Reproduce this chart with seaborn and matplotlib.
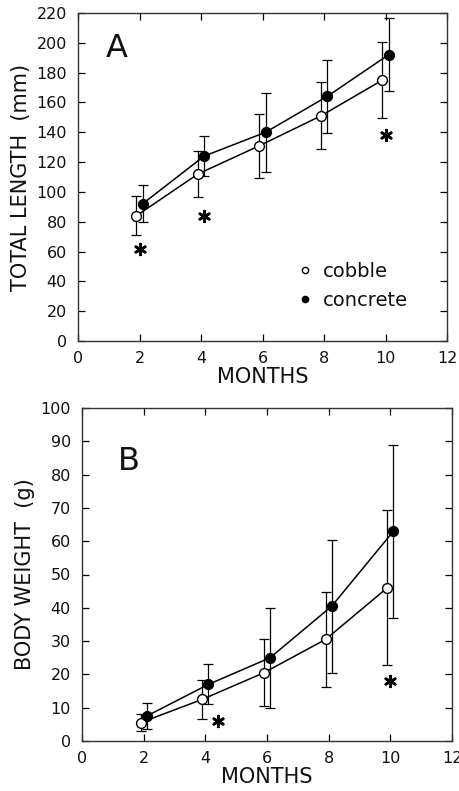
import numpy as np
import pandas as pd
import matplotlib
matplotlib.use("Agg")
import matplotlib.pyplot as plt
import seaborn as sns
from matplotlib.lines import Line2D

sns.set_theme(style="ticks")
plt.rcParams['font.family'] = ['DejaVu Sans']

months = [2, 4, 6, 8, 10]
groups = ["cobble", "concrete"]
offsets = [-0.1, 0.1]

# Panel A: total length (mm)
len_cobble = [84, 112, 131, 151, 175]
len_cobble_sd = [13, 15.5, 21.5, 22.5, 25.5]
len_concrete = [92, 124, 140, 164, 192]
len_concrete_sd = [12.5, 13.5, 26.5, 24.5, 24.5]
len_star_x = [2.0, 4.1, 10.0]
len_star_y = [62, 84, 138]

# Panel B: body weight (g)
wt_cobble = [5.5, 12.5, 20.5, 30.5, 46]
wt_cobble_sd = [2.5, 5.8, 10, 14.2, 23.3]
wt_concrete = [7.5, 17, 25, 40.5, 63]
wt_concrete_sd = [3.8, 6, 15, 20, 26]
wt_star_x = [4.4, 10.0]
wt_star_y = [6, 18]

fig = plt.figure(figsize=(4.59, 7.91), dpi=100)
W, H = 459, 791
axA = fig.add_axes([78 / W, 1 - 341 / H, (447 - 78) / W, (341 - 13) / H])
axB = fig.add_axes([82 / W, 1 - 741 / H, (452 - 82) / W, (741 - 408) / H])

TXT = "#111111"


def panel(ax, cob, cob_sd, con, con_sd, sx, sy, ylim, ystep, ylabel, letter, lpos):
    rows = []
    for g, off, vals, sds in [("cobble", offsets[0], cob, cob_sd),
                              ("concrete", offsets[1], con, con_sd)]:
        for m, v, s in zip(months, vals, sds):
            rows.append({"x": m + off, "y": v, "sd": s, "group": g})
    df = pd.DataFrame(rows)
    for g in groups:
        d = df[df.group == g]
        ax.errorbar(d.x, d.y, yerr=d.sd, fmt="none", ecolor="black",
                    elinewidth=0.9, capsize=3.5, capthick=0.9, zorder=2)
    sns.lineplot(data=df, x="x", y="y", hue="group", palette=["black", "black"],
                 sort=True, estimator=None, legend=False, ax=ax, linewidth=1.1, zorder=3)
    for g, face in [("cobble", "white"), ("concrete", "black")]:
        d = df[df.group == g]
        ax.scatter(d.x, d.y, s=50, facecolor=face, edgecolor="black",
                   linewidth=1.0, zorder=4)
    ax.scatter(sx, sy, marker=(6, 2, 0), s=60, color="black", linewidth=1.9, zorder=4)
    ax.set_xlim(0, 12)
    ax.set_ylim(0, ylim)
    ax.set_xticks(np.arange(0, 13, 2))
    ax.set_yticks(np.arange(0, ylim + 1, ystep))
    ax.tick_params(axis="both", direction="in", top=True, right=True, length=5,
                   width=0.9, labelsize=11.5, colors="black", labelcolor=TXT)
    ax.tick_params(axis="x", pad=7)
    ax.tick_params(axis="y", pad=8)
    for sp in ax.spines.values():
        sp.set_visible(True)
        sp.set_linewidth(1.0)
        sp.set_color("#333333")
    ax.set_xlabel("MONTHS", fontsize=15, labelpad=1, color=TXT)
    ax.set_ylabel(ylabel, fontsize=15, labelpad=4, color=TXT)
    ax.text(lpos[0], lpos[1], letter, transform=ax.transAxes, fontsize=23,
            va="baseline", ha="left", color=TXT)


panel(axA, len_cobble, len_cobble_sd, len_concrete, len_concrete_sd,
      len_star_x, len_star_y, 220, 20, "TOTAL LENGTH  (mm)", "A", (0.075, 0.866))
panel(axB, wt_cobble, wt_cobble_sd, wt_concrete, wt_concrete_sd,
      wt_star_x, wt_star_y, 100, 10, "BODY WEIGHT  (g)", "B", (0.098, 0.814))

handles = [Line2D([], [], marker="o", linestyle="none", markerfacecolor="white",
                  markeredgecolor="black", markersize=4.5),
           Line2D([], [], marker="o", linestyle="none", markerfacecolor="black",
                  markeredgecolor="black", markersize=4.5)]
leg = axA.legend(handles, groups, loc="upper left", bbox_to_anchor=(0.589, 0.24),
                 frameon=False, fontsize=14, handletextpad=0.4, labelspacing=0.5,
                 handlelength=1.0, borderaxespad=0, borderpad=0)
for t in leg.get_texts():
    t.set_color(TXT)

fig.savefig("out.png", dpi=100)
